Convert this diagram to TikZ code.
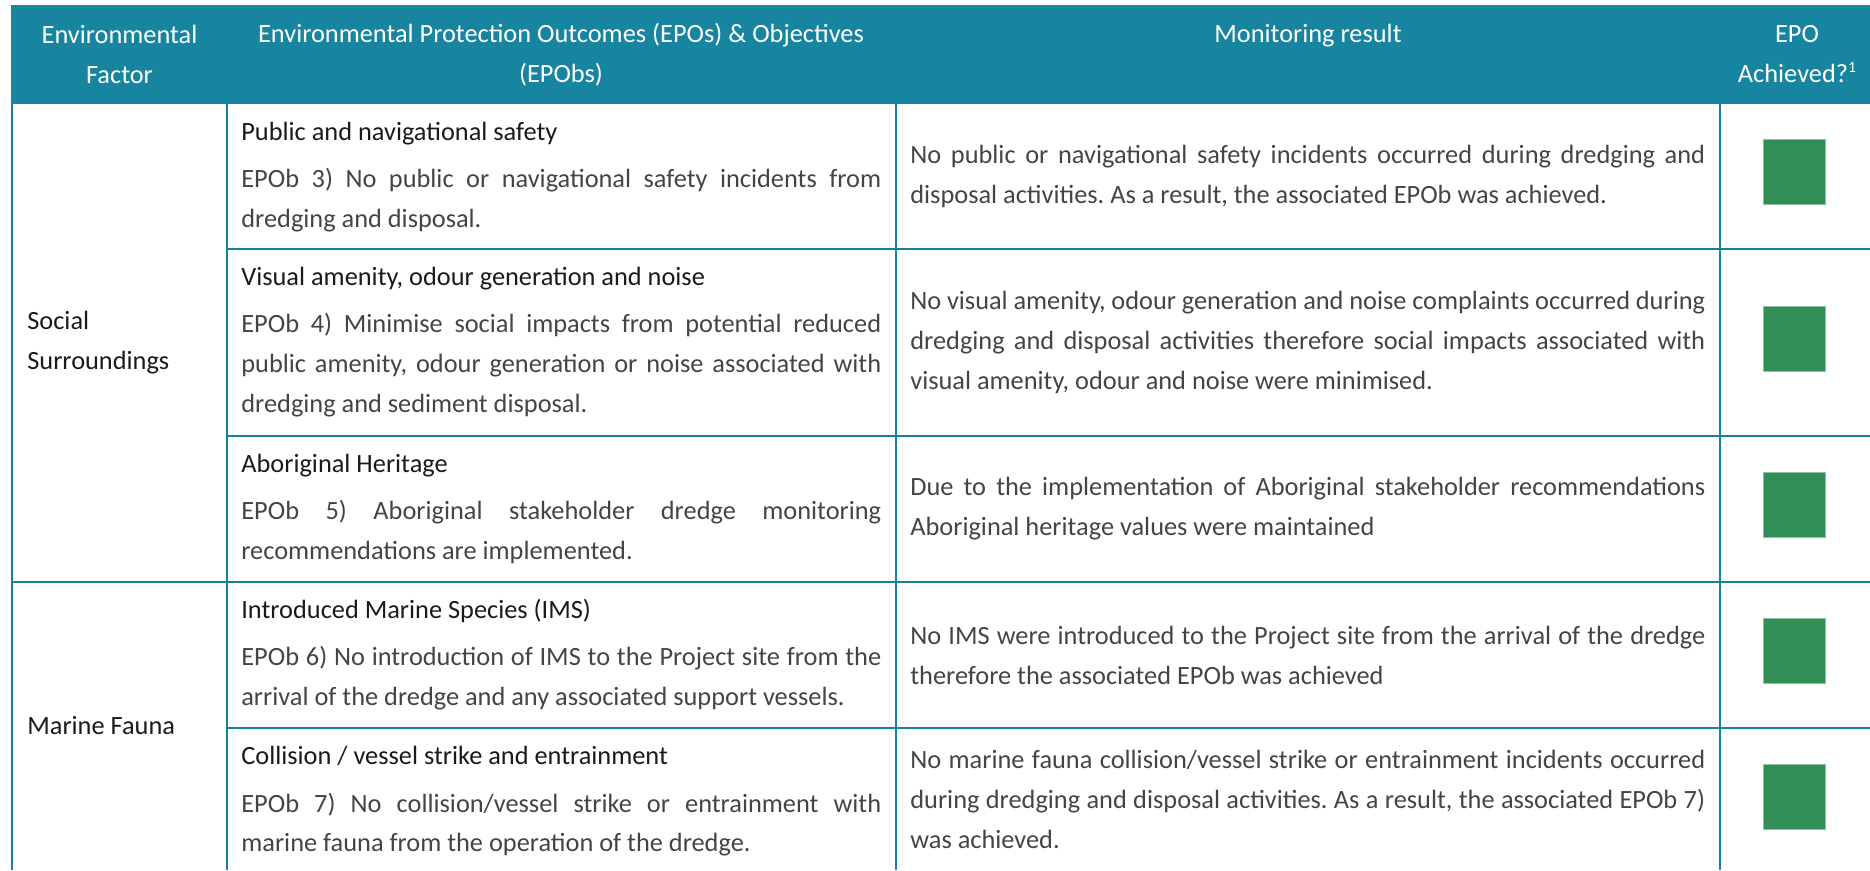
\documentclass[tikz,border=0pt]{standalone}
\usepackage{fontspec}
\setmainfont{Carlito}
\usepackage{xcolor}
\definecolor{hdteal}{HTML}{1784A0}
\definecolor{ruleteal}{HTML}{1A80A0}
\definecolor{okgreen}{HTML}{318E57}
\definecolor{hdtext}{HTML}{1A1A1A}
\definecolor{bodytext}{HTML}{444444}
\newcommand{\cellhead}[1]{{\color{hdtext}#1}\par\vspace{0.16cm}}
\frenchspacing

\begin{document}
\begin{tikzpicture}
[x=0.02cm,y=-0.02cm,
every node/.style={inner sep=0pt,font=\fontsize{15}{22.76}\selectfont},
head/.style={text=white,align=center,anchor=center},
fact/.style={text=hdtext,align=left,anchor=west},
outc/.style={text=bodytext,align=justify,text width=12.8cm,anchor=base west},
mres/.style={text=bodytext,align=justify,text width=15.9cm,anchor=west},
okay/.style={rectangle,fill=okgreen,draw=okgreen!55!white,line width=0.02cm,minimum width=1.24cm,minimum height=1.3cm},
tabrule/.style={draw=ruleteal,line width=0.03cm}]

\useasboundingbox (0,0) rectangle (1870,870);
\clip (0,0) rectangle (1870,870);

\fill [hdteal] (11,5) rectangle (1875,104);
\node at (119.5,54.5) [head] (hfac) {Environmental\\Factor};
\node at (561,54.5)   [head] (hepo) {Environmental Protection Outcomes (EPOs) \& Objectives\\(EPObs)};
\node at (1308,42)    [head,anchor=base] (hmon) {Monitoring result};
\node at (1797,54.5)  [head] (hach) {EPO\\Achieved?\raisebox{0.8ex}{\fontsize{9}{9}\selectfont 1}};

\draw [tabrule] (12,104) -- (12,870);
\draw [tabrule] (227,104) -- (227,870);
\draw [tabrule] (896,104) -- (896,870);
\draw [tabrule] (1720,104) -- (1720,870);
\draw [tabrule] (227,249) -- (1875,249);
\draw [tabrule] (227,436) -- (1875,436);
\draw [tabrule] (12,582) -- (1875,582);
\draw [tabrule] (227,728) -- (1875,728);

\node at (27,343) [fact] (fsoc) {Social\\Surroundings};
\node at (27,726) [fact] (fmar) {Marine Fauna};

\node at (241,140) [outc] (epo3) {\cellhead{Public and navigational safety}EPOb 3) No public or navigational safety incidents from\linebreak dredging and disposal.};
\node at (241,285) [outc] (epo4) {\cellhead{Visual amenity, odour generation and noise}EPOb 4) Minimise social impacts from potential reduced\linebreak public amenity, odour generation or noise associated with\linebreak dredging and sediment disposal.};
\node at (241,472) [outc] (epo5) {\cellhead{Aboriginal Heritage}EPOb 5) Aboriginal stakeholder dredge monitoring\linebreak recommendations are implemented.};
\node at (241,618) [outc] (epo6) {\cellhead{Introduced Marine Species (IMS)}EPOb 6) No introduction of IMS to the Project site from the\linebreak arrival of the dredge and any associated support vessels.};
\node at (241,764) [outc] (epo7) {\cellhead{Collision / vessel strike and entrainment}EPOb 7) No collision/vessel strike or entrainment with\linebreak marine fauna from the operation of the dredge.};

\node at (910,176.5) [mres] (mon3) {No public or navigational safety incidents occurred during dredging and\linebreak disposal activities. As a result, the associated EPOb was achieved.};
\node at (910,342.5) [mres] (mon4) {No visual amenity, odour generation and noise complaints occurred during\linebreak dredging and disposal activities therefore social impacts associated with\linebreak visual amenity, odour and noise were minimised.};
\node at (910,509)   [mres] (mon5) {Due to the implementation of Aboriginal stakeholder recommendations\linebreak Aboriginal heritage values were maintained};
\node at (910,655)   [mres] (mon6) {No IMS were introduced to the Project site from the arrival of the dredge\linebreak therefore the associated EPOb was achieved};
\node at (910,799)   [mres] (mon7) {No marine fauna collision/vessel strike or entrainment incidents occurred\linebreak during dredging and disposal activities. As a result, the associated EPOb 7)\linebreak was achieved.};

\node at (1794,172)   [okay] (ach3) {};
\node at (1794,339)   [okay] (ach4) {};
\node at (1794,504.5) [okay] (ach5) {};
\node at (1794,650.5) [okay] (ach6) {};
\node at (1794,796.5) [okay] (ach7) {};
\end{tikzpicture}
\end{document}
